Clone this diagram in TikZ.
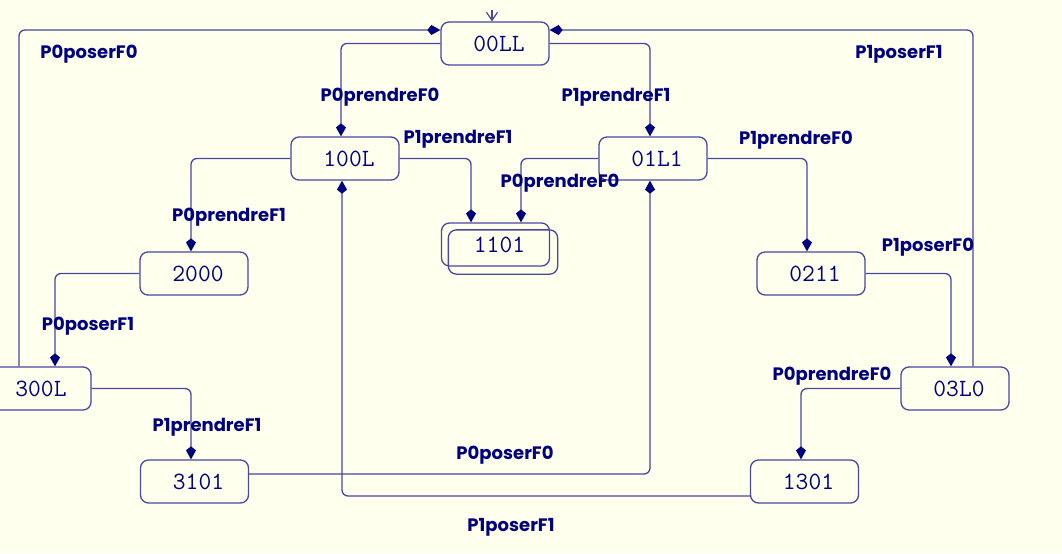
\documentclass[tikz,border=0pt]{standalone}
\usepackage{fontspec}
\newfontfamily\lblfont{Poppins}
\usepackage{tikz}
\usetikzlibrary{arrows.meta}
\usetikzlibrary{calc}

\definecolor{bgcol}{RGB}{255,255,238}
\definecolor{txtcol}{RGB}{0,0,128}
\definecolor{linecol}{RGB}{72,72,160}

\tikzset{
  state/.style={draw=linecol, line width=0.65pt, rounded corners=4pt,
    minimum width=54pt, minimum height=21.5pt, inner sep=0pt,
    text=txtcol, font=\ttfamily\fontsize{12.4}{14}\selectfont},
  lbl/.style={text=txtcol, font=\lblfont\bfseries\fontsize{9}{11}\selectfont,
    anchor=base, inner sep=0pt},
  trans/.style={draw=linecol, line width=0.65pt, rounded corners=3pt,
    -{Kite[length=6.5pt, width=5pt, inset=2pt, color=txtcol]}},
  initarr/.style={draw=linecol, line width=0.6pt,
    -{Straight Barb[length=4pt, width=5.5pt]}}
}

\begin{document}
\begin{tikzpicture}[x=0.5pt, y=-0.5pt]

      \useasboundingbox (0,0) rectangle (1062,553);
      \fill[bgcol] (0,0) rectangle (1062,553);

      % states
      \foreach \nm/\x/\y in {00LL/495/43.5, 100L/345/158.5, 01L1/653/158.5,
          1101/495.5/244.5, 2000/194/273.5, 0211/811/273.5, 300L/37/388.5,
          03L0/955/388.5, 3101/194.5/481.5, 1301/804.5/481.5}{
        \node[state] (s\nm) at (\x, \y) {\hspace*{4pt}\nm};
      }
      \draw[linecol, line width=0.65pt, rounded corners=4pt]
        ([shift={(3.75pt,-3.75pt)}]s1101.north west) rectangle ([shift={(3.75pt,-3.75pt)}]s1101.south east);

      % initial state
      \draw[initarr] ([shift={(-1.5pt,5.5pt)}]s00LL.north) -- ([xshift=-1.5pt]s00LL.north);

      % transitions
      \draw[trans] (s00LL.west) -| ([xshift=-2pt]s100L.north);
      \draw[trans] (s00LL.east) -| ([xshift=-1.5pt]s01L1.north);
      \draw[trans] (s100L.east) -| ([xshift=-12.25pt]s1101.north);
      \draw[trans] (s01L1.west) -| ([xshift=12.75pt]s1101.north);
      \draw[trans] (s01L1.east) -| ([xshift=-2pt]s0211.north);
      \draw[trans] (s100L.west) -| ([xshift=-1.5pt]s2000.north);
      \draw[trans] (s2000.west) -| ([xshift=9pt]s300L.north);
      \draw[trans] (s300L.east) -| ([xshift=-1.75pt]s3101.north);
      \draw[trans] ([xshift=-9pt]s300L.north) |- ([yshift=6.75pt]s00LL.west);
      \draw[trans] ([yshift=3.75pt]s3101.east) -| ([xshift=-1.5pt]s01L1.south);
      \draw[trans] ([yshift=-7.25pt]s1301.west) -| ([xshift=-1.5pt]s100L.south);
      \draw[trans] (s0211.east) -| ([xshift=-2pt]s03L0.north);
      \draw[trans] (s03L0.west) -| ([xshift=-1.75pt]s1301.north);
      \draw[trans] ([xshift=9pt]s03L0.north) |- ([yshift=6.75pt]s00LL.east);

      % labels
      \foreach \i/\t/\x/\y in {1/P0prendreF0/380/101, 2/P1prendreF1/616/101,
          3/P1prendreF1/458/143, 4/P0prendreF0/560/187, 5/P1prendreF0/796/144,
          6/P0prendreF1/229/221, 7/P0poserF1/88/330, 8/P1prendreF1/207/431,
          9/P0poserF0/89/58, 10/P0poserF0/505/459, 11/P1poserF1/511/531,
          12/P1poserF0/928/251, 13/P0prendreF0/832/380, 14/P1poserF1/899/58}{
        \node[lbl] (l\i) at (\x, \y) {\t};
      }

\end{tikzpicture}
\end{document}
